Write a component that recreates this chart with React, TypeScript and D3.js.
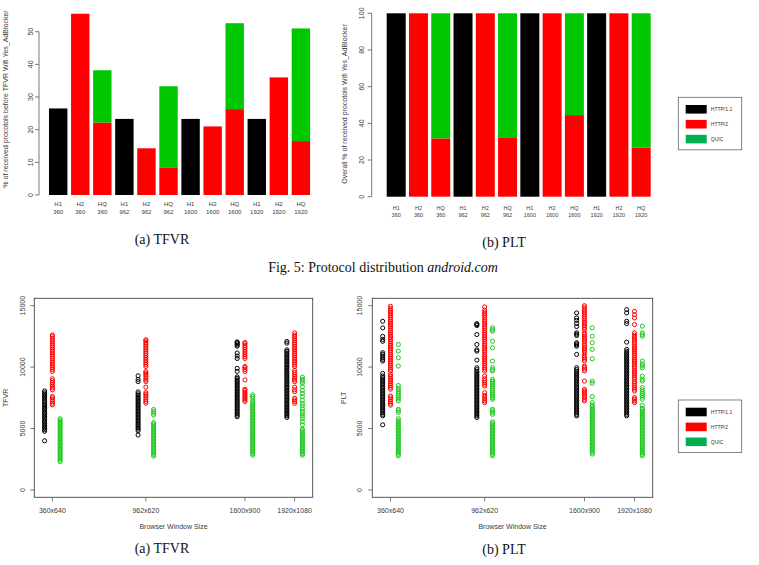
import React from 'react';
import * as d3 from 'd3';

// ---------- Bar chart data ----------
const barProtocols = ['H1', 'H2', 'HQ', 'H1', 'H2', 'HQ', 'H1', 'H2', 'HQ', 'H1', 'H2', 'HQ'];
const barSizes = ['360', '360', '360', '962', '962', '962', '1600', '1600', '1600', '1920', '1920', '1920'];

const tfvrBarHttp1 = [26.5, 0, 0, 23.3, 0, 0, 23.3, 0, 0, 23.3, 0, 0];
const tfvrBarHttp2 = [0, 55.5, 22.2, 0, 14.3, 8.3, 0, 21.0, 26.3, 0, 36.0, 16.5];
const tfvrBarQuic = [0, 0, 16.0, 0, 0, 25.0, 0, 0, 26.3, 0, 0, 34.5];

const pltBarHttp1 = [100, 0, 0, 100, 0, 0, 100, 0, 0, 100, 0, 0];
const pltBarHttp2 = [0, 100, 31.8, 0, 100, 32.4, 0, 100, 44.5, 0, 100, 26.7];
const pltBarQuic = [0, 0, 68.2, 0, 0, 67.6, 0, 0, 55.5, 0, 0, 73.3];

const tfvrBarTicks = [0, 10, 20, 30, 40, 50];
const pltBarTicks = [0, 20, 40, 60, 80, 100];

// ---------- Scatter data ----------
const windowWidths = [360, 962, 1600, 1920];
const windowLabels = ['360x640', '962x620', '1600x900', '1920x1080'];
const scatterTicks = [0, 5000, 10000, 15000];

const tfvrH1_360 = [4000, 4780, 4900, 5020, 5160, 5270, 5400, 5530, 5610, 5750, 5880, 5990, 6120, 6250, 6330, 6470, 6600, 6720, 6850, 6930, 7080, 7200, 7310, 7450, 7570, 7680, 7800, 7910, 8060];
const tfvrH2_360 = [6920, 7050, 7200, 7350, 7500, 7600, 8150, 8300, 8450, 8600, 8750, 8900, 9050, 9650, 9800, 9950, 10100, 10250, 10400, 10550, 10700, 10850, 11000, 11150, 11300, 11450, 11600, 11750, 11900, 12050, 12200, 12350, 12500, 12620];
const tfvrHQ_360 = [2300, 2420, 2550, 2680, 2800, 2930, 3050, 3170, 3300, 3420, 3560, 3680, 3800, 3930, 4050, 4180, 4300, 4420, 4550, 4680, 4800, 4930, 5050, 5180, 5300, 5420, 5550, 5680, 5800];

const tfvrH1_962 = [4470, 4820, 4950, 5070, 5200, 5320, 5450, 5580, 5700, 5830, 5950, 6080, 6200, 6330, 6450, 6580, 6700, 6830, 6950, 7080, 7200, 7330, 7450, 7580, 7700, 7830, 7980, 8820, 9000, 9290];
const tfvrH2_962 = [7060, 7200, 7350, 7500, 7650, 7800, 7930, 8370, 8820, 8950, 9100, 9250, 9400, 9520, 9640, 10050, 10200, 10350, 10500, 10650, 10800, 10950, 11100, 11250, 11400, 11550, 11700, 11850, 12000, 12130, 12230];
const tfvrHQ_962 = [2750, 2880, 3000, 3130, 3250, 3380, 3500, 3630, 3750, 3880, 4000, 4130, 4250, 4380, 4500, 4630, 4750, 4880, 5000, 5130, 5250, 5380, 5470, 6100, 6250, 6400, 6550];

const tfvrH1_1600 = [5960, 6080, 6200, 6330, 6450, 6580, 6700, 6830, 6950, 7080, 7200, 7330, 7450, 7580, 7700, 7830, 7950, 8080, 8200, 8330, 8450, 8580, 8700, 8830, 8950, 9080, 9200, 9650, 9900, 10700, 10900, 11150, 11700, 11800, 11900, 12000, 12050];
const tfvrH2_1600 = [7200, 7330, 7450, 7580, 7700, 7830, 7950, 8100, 8200, 8960, 9640, 9800, 9950, 10050, 10700, 10850, 11000, 11150, 11300, 11450, 11600, 11750, 11900, 12000];
const tfvrHQ_1600 = [2830, 2950, 3080, 3200, 3330, 3450, 3580, 3700, 3830, 3950, 4080, 4200, 4330, 4450, 4580, 4700, 4830, 4950, 5080, 5200, 5330, 5450, 5580, 5700, 5830, 5950, 6080, 6200, 6330, 6450, 6580, 6700, 6830, 6950, 7080, 7200, 7450, 7600, 7740];

const tfvrH1_1920 = [5900, 6030, 6150, 6280, 6400, 6530, 6650, 6780, 6900, 7030, 7150, 7280, 7400, 7530, 7650, 7780, 7900, 8030, 8150, 8280, 8400, 8530, 8650, 8780, 8900, 9030, 9150, 9280, 9400, 9530, 9650, 9780, 9900, 10030, 10150, 10280, 10400, 10530, 10650, 10780, 10900, 11030, 11150, 11280, 11400, 11950, 12090];
const tfvrH2_1920 = [7060, 7200, 7330, 7470, 8000, 8150, 8370, 8820, 8950, 9100, 9250, 9400, 9560, 9730, 10050, 10200, 10350, 10500, 10650, 10800, 10950, 11100, 11250, 11400, 11550, 11700, 11850, 12000, 12150, 12300, 12450, 12600, 12780];
const tfvrHQ_1920 = [2830, 2950, 3080, 3200, 3330, 3450, 3580, 3700, 3830, 3950, 4080, 4200, 4330, 4450, 4580, 4700, 4830, 4950, 5300, 5550, 5800, 6000, 6200, 6400, 6600, 6850, 7050, 7300, 7600, 7850, 8100, 8400, 8700, 8850, 9000, 9180];

const pltH1_360 = [5300, 6030, 6150, 6280, 6400, 6530, 6650, 6780, 6900, 7030, 7150, 7280, 7400, 7530, 7650, 7780, 7900, 8030, 8150, 8280, 8400, 8530, 8650, 8780, 8900, 9030, 9150, 9280, 9490, 10490, 10620, 10750, 10900, 11050, 11170, 12100, 12250, 12500, 13190, 13730];
const pltH2_360 = [6900, 7050, 7200, 7350, 7500, 7650, 8200, 8350, 8500, 8650, 8800, 8950, 9100, 9250, 9400, 9680, 9830, 9980, 10130, 10280, 10430, 10580, 10730, 10880, 11030, 11180, 11330, 11480, 11630, 11780, 11930, 12080, 12230, 12380, 12530, 12680, 12830, 12980, 13130, 13280, 13430, 13580, 13730, 13880, 14030, 14180, 14330, 14480, 14630, 14780, 14950];
const pltHQ_360 = [2780, 2900, 3030, 3150, 3280, 3400, 3530, 3650, 3780, 3900, 4030, 4150, 4280, 4400, 4530, 4650, 4780, 4900, 5030, 5150, 5280, 5400, 5530, 5650, 5810, 6300, 6450, 6570, 7240, 7400, 7550, 7700, 7850, 8000, 8150, 8300, 8500, 10080, 10760, 11300, 11840];

const pltH1_962 = [5900, 6030, 6150, 6280, 6400, 6530, 6650, 6780, 6900, 7030, 7150, 7280, 7400, 7530, 7650, 7780, 7900, 8030, 8150, 8280, 8400, 8530, 8650, 8780, 8900, 9030, 9150, 9280, 9400, 9530, 9650, 9800, 9950, 10570, 11300, 11400, 11840, 12650, 13380, 13460, 13540];
const pltH2_962 = [7110, 7250, 7400, 7550, 7700, 7920, 8460, 8600, 8750, 8900, 9050, 9270, 9680, 9830, 9980, 10130, 10280, 10430, 10580, 10730, 10880, 11030, 11180, 11330, 11480, 11630, 11780, 11930, 12080, 12230, 12380, 12530, 12680, 12830, 12980, 13130, 13280, 13430, 13580, 13730, 13880, 14030, 14180, 14330, 14480, 14630, 14900];
const pltHQ_962 = [2780, 2900, 3030, 3150, 3280, 3400, 3530, 3650, 3780, 3900, 4030, 4150, 4280, 4400, 4530, 4650, 4780, 4900, 5030, 5150, 5280, 5400, 5540, 6160, 6300, 6450, 6570, 7380, 7500, 7650, 7800, 7950, 8100, 8250, 8400, 8550, 8700, 8850, 9000, 9680, 9800, 9950, 10490, 11570, 12100, 12920, 13050, 13200];

const pltH1_1600 = [6030, 6150, 6280, 6400, 6530, 6650, 6780, 6900, 7030, 7150, 7280, 7400, 7530, 7650, 7780, 7900, 8030, 8150, 8280, 8400, 8530, 8650, 8780, 8900, 9030, 9150, 9280, 9400, 9530, 9650, 9800, 9950, 11030, 11700, 11800, 11900, 11980, 12570, 12680, 12790, 13300, 13550, 13800, 14000, 14410];
const pltH2_1600 = [7240, 7380, 7520, 7660, 7800, 7940, 8060, 8190, 8860, 9680, 9830, 9980, 10080, 10490, 10650, 10800, 10950, 11170, 11320, 11470, 11620, 11770, 11920, 12070, 12220, 12370, 12520, 12670, 12790, 13060, 13210, 13360, 13510, 13660, 13810, 13960, 14110, 14260, 14410, 14560, 14710, 14860, 15000];
const pltHQ_1600 = [2920, 3050, 3170, 3300, 3420, 3550, 3670, 3800, 3920, 4050, 4170, 4300, 4420, 4550, 4670, 4800, 4920, 5050, 5170, 5300, 5420, 5550, 5670, 5800, 5920, 6050, 6170, 6300, 6420, 6550, 6670, 6800, 6920, 7110, 7600, 8680, 8860, 10680, 11440, 11980, 12510, 13200];

const pltH1_1920 = [6030, 6150, 6280, 6400, 6530, 6650, 6780, 6900, 7030, 7150, 7280, 7400, 7530, 7650, 7780, 7900, 8030, 8150, 8280, 8400, 8530, 8650, 8780, 8900, 9030, 9150, 9280, 9400, 9530, 9650, 9780, 9900, 10030, 10150, 10280, 10400, 10530, 10650, 10780, 10900, 11030, 11150, 11280, 11440, 12030, 13540, 13730, 14410, 14680];
const pltH2_1920 = [7110, 7250, 7400, 7520, 8050, 8200, 8350, 8500, 8650, 8800, 9000, 9140, 9290, 9440, 9590, 9740, 9890, 10040, 10190, 10340, 10490, 10640, 10790, 10940, 11090, 11240, 11390, 11540, 11690, 11840, 11990, 12140, 12290, 12440, 12600, 12790, 13460, 14000, 14270, 14540];
const pltHQ_1920 = [2780, 2900, 3030, 3150, 3280, 3400, 3530, 3650, 3780, 3900, 4030, 4150, 4280, 4400, 4530, 4650, 4780, 4900, 5030, 5150, 5280, 5400, 5530, 5650, 5780, 5900, 6030, 6150, 6280, 6400, 6530, 6650, 6890, 7380, 7550, 7700, 7850, 8000, 8150, 8330, 8860, 9000, 9270, 9950, 10100, 10250, 10490, 12510, 12650, 12790, 13330];

const legendLabels = ['HTTP/1.1', 'HTTP/2', 'QUIC'];

// ---------- styles ----------
const SANS = "'Liberation Sans', Arial, Helvetica, sans-serif";
const SERIF = "'Liberation Serif', 'Times New Roman', serif";
const COL_H1 = '#000000';
const COL_H2 = '#ff0000';
const COL_HQ_BAR = '#00c800';
const COL_HQ_PT = '#1ec81e';
const LEGEND_COLORS = ['#000000', '#ff0000', '#00b050'];
const AXIS = '#555';
const TXT = '#3a3a3a';

type BarProps = {
  http1: number[]; http2: number[]; quic: number[];
  ticks: number[]; yMax: number;
  bandLeft: number; bandRight: number; pad: number;
  yBottom: number; yTop: number;
  axisX: number; tickLabelX: number;
  lab1Y: number; lab2Y: number; labFont: number;
  ylabel: string; ylabelX: number; ylabelY: number;
};

function BarChart(p: BarProps) {
  const idx = d3.range(barProtocols.length).map(String);
  const x = d3.scaleBand().domain(idx).range([p.bandLeft, p.bandRight]).paddingInner(p.pad).paddingOuter(0);
  const y = d3.scaleLinear().domain([0, p.yMax]).range([p.yBottom, p.yTop]);
  const rows = idx.map((_, i) => ({ h1: p.http1[i], h2: p.http2[i], q: p.quic[i] }));
  const stack = d3.stack<any>().keys(['h1', 'h2', 'q'])(rows);
  const cols = [COL_H1, COL_H2, COL_HQ_BAR];
  const tmin = p.ticks[0], tmax = p.ticks[p.ticks.length - 1];
  return (
    <g>
      {stack.map((layer, li) => (
        <g key={li}>
          {layer.map((d, i) => d[1] - d[0] > 0 ? (
            <rect key={i} x={x(String(i))} width={x.bandwidth()} y={y(d[1])} height={y(d[0]) - y(d[1])} fill={cols[li]} />
          ) : null)}
        </g>
      ))}
      <line x1={p.axisX} x2={p.axisX} y1={y(tmin)} y2={y(tmax)} stroke={AXIS} strokeWidth={0.8} />
      {p.ticks.map(t => (
        <g key={t}>
          <line x1={p.axisX - 4} x2={p.axisX} y1={y(t)} y2={y(t)} stroke={AXIS} strokeWidth={0.8} />
          <text transform={`translate(${p.tickLabelX},${y(t)}) rotate(-90)`} textAnchor="middle" dominantBaseline="central" fontSize={7} fill={TXT} fontFamily={SANS}>{t}</text>
        </g>
      ))}
      {idx.map((k, i) => (
        <g key={k}>
          <text x={x(k)! + x.bandwidth() / 2} y={p.lab1Y} textAnchor="middle" dominantBaseline="central" fontSize={p.labFont} fill={TXT} fontFamily={SANS}>{barProtocols[i]}</text>
          <text x={x(k)! + x.bandwidth() / 2} y={p.lab2Y} textAnchor="middle" dominantBaseline="central" fontSize={p.labFont} fill={TXT} fontFamily={SANS}>{barSizes[i]}</text>
        </g>
      ))}
      <text transform={`translate(${p.ylabelX},${p.ylabelY}) rotate(-90)`} textAnchor="middle" dominantBaseline="central" fontSize={7} fill={TXT} fontFamily={SANS}>{p.ylabel}</text>
    </g>
  );
}

type ScatterProps = {
  groups: number[][][];
  left: number; right: number; top: number; bottom: number;
  tickLabelX: number; ylabel: string; ylabelX: number;
};

function ScatterChart(p: ScatterProps) {
  const x = d3.scaleLinear().domain([243.6, 2036.4]).range([p.left, p.right]);
  const y = d3.scaleLinear().domain([-600, 15600]).range([p.bottom, p.top]);
  const offsets = [-50, 0, 50];
  const cols = [COL_H1, COL_H2, COL_HQ_PT];
  const midY = (p.top + p.bottom) / 2;
  return (
    <g>
      {p.groups.map((proto, pi) => (
        <g key={pi} fill="none" stroke={cols[pi]} strokeWidth={1}>
          {proto.map((vals, wi) => vals.map((v, k) => (
            <circle key={wi + '-' + k} cx={x(windowWidths[wi] + offsets[pi])} cy={y(v)} r={2.05} />
          )))}
        </g>
      ))}
      <rect x={p.left} y={p.top} width={p.right - p.left} height={p.bottom - p.top} fill="none" stroke="#444" strokeWidth={0.9} />
      {scatterTicks.map(t => (
        <g key={t}>
          <line x1={p.left - 4} x2={p.left} y1={y(t)} y2={y(t)} stroke={AXIS} strokeWidth={0.8} />
          <text transform={`translate(${p.tickLabelX},${y(t)}) rotate(-90)`} textAnchor="middle" dominantBaseline="central" fontSize={7} fill={TXT} fontFamily={SANS}>{t}</text>
        </g>
      ))}
      {windowWidths.map((w, i) => (
        <g key={w}>
          <line x1={x(w)} x2={x(w)} y1={p.bottom} y2={p.bottom + 4} stroke={AXIS} strokeWidth={0.8} />
          <text x={x(w)} y={p.bottom + 13} textAnchor="middle" dominantBaseline="central" fontSize={7} fill={TXT} fontFamily={SANS}>{windowLabels[i]}</text>
        </g>
      ))}
      <text x={(p.left + p.right) / 2} y={p.bottom + 29} textAnchor="middle" dominantBaseline="central" fontSize={7} fill={TXT} fontFamily={SANS}>Browser Window Size</text>
      <text transform={`translate(${p.ylabelX},${midY}) rotate(-90)`} textAnchor="middle" dominantBaseline="central" fontSize={7} fill={TXT} fontFamily={SANS}>{p.ylabel}</text>
    </g>
  );
}

function Legend({ x, y }: { x: number; y: number }) {
  return (
    <g transform={`translate(${x},${y})`}>
      <rect x={0} y={0} width={63.4} height={52.5} fill="#fff" stroke="#666" strokeWidth={0.8} />
      {legendLabels.map((l, i) => (
        <g key={l}>
          <rect x={7.4} y={7.7 + i * 14.9} width={21} height={8.6} fill={LEGEND_COLORS[i]} />
          <text x={32.5} y={12 + i * 14.9} dominantBaseline="central" fontSize={5} fill="#333" fontFamily={SANS}>{l}</text>
        </g>
      ))}
    </g>
  );
}

export default function App() {
  const tfvrGroups = [
    [tfvrH1_360, tfvrH1_962, tfvrH1_1600, tfvrH1_1920],
    [tfvrH2_360, tfvrH2_962, tfvrH2_1600, tfvrH2_1920],
    [tfvrHQ_360, tfvrHQ_962, tfvrHQ_1600, tfvrHQ_1920],
  ];
  const pltGroups = [
    [pltH1_360, pltH1_962, pltH1_1600, pltH1_1920],
    [pltH2_360, pltH2_962, pltH2_1600, pltH2_1920],
    [pltHQ_360, pltHQ_962, pltHQ_1600, pltHQ_1920],
  ];
  return (
    <svg width={759} height={565} style={{ position: 'absolute', left: 0, top: 0, background: '#fff' }}>
      <rect x={0} y={0} width={759} height={565} fill="#fff" />
      <BarChart http1={tfvrBarHttp1} http2={tfvrBarHttp2} quic={tfvrBarQuic} ticks={tfvrBarTicks} yMax={50}
        bandLeft={49} bandRight={310.1} pad={0.166} yBottom={195} yTop={31.7}
        axisX={39} tickLabelX={30} lab1Y={203.5} lab2Y={212} labFont={6}
        ylabel="% of received procotols before TFVR Wifi Yes_AdBlocker" ylabelX={5} ylabelY={99} />
      <BarChart http1={pltBarHttp1} http2={pltBarHttp2} quic={pltBarQuic} ticks={pltBarTicks} yMax={100}
        bandLeft={386.7} bandRight={650.7} pad={0.147} yBottom={196.7} yTop={13.3}
        axisX={371.7} tickLabelX={361.7} lab1Y={207.8} lab2Y={214.6} labFont={5.5}
        ylabel="Overall % of received procotols Wifi Yes_AdBlocker" ylabelX={344} ylabelY={104} />
      <Legend x={678.3} y={97.3} />

      <text x={162} y={239} textAnchor="middle" dominantBaseline="central" fontSize={14} fontFamily={SERIF} fill="#111">(a) TFVR</text>
      <text x={504} y={242} textAnchor="middle" dominantBaseline="central" fontSize={14} fontFamily={SERIF} fill="#111">(b) PLT</text>
      <text x={383} y={267} textAnchor="middle" dominantBaseline="central" fontSize={14} fontFamily={SERIF} fill="#111">
        Fig. 5: Protocol distribution <tspan fontStyle="italic">android.com</tspan>
      </text>

      <ScatterChart groups={tfvrGroups} left={34.3} right={312.7} top={298.3} bottom={497.3} tickLabelX={22.7} ylabel="TFVR" ylabelX={5} />
      <ScatterChart groups={pltGroups} left={372.3} right={652.7} top={298.3} bottom={497.3} tickLabelX={359.3} ylabel="PLT" ylabelX={343.3} />
      <Legend x={678.3} y={400} />

      <text x={162} y={548} textAnchor="middle" dominantBaseline="central" fontSize={14} fontFamily={SERIF} fill="#111">(a) TFVR</text>
      <text x={504} y={549} textAnchor="middle" dominantBaseline="central" fontSize={14} fontFamily={SERIF} fill="#111">(b) PLT</text>
    </svg>
  );
}
